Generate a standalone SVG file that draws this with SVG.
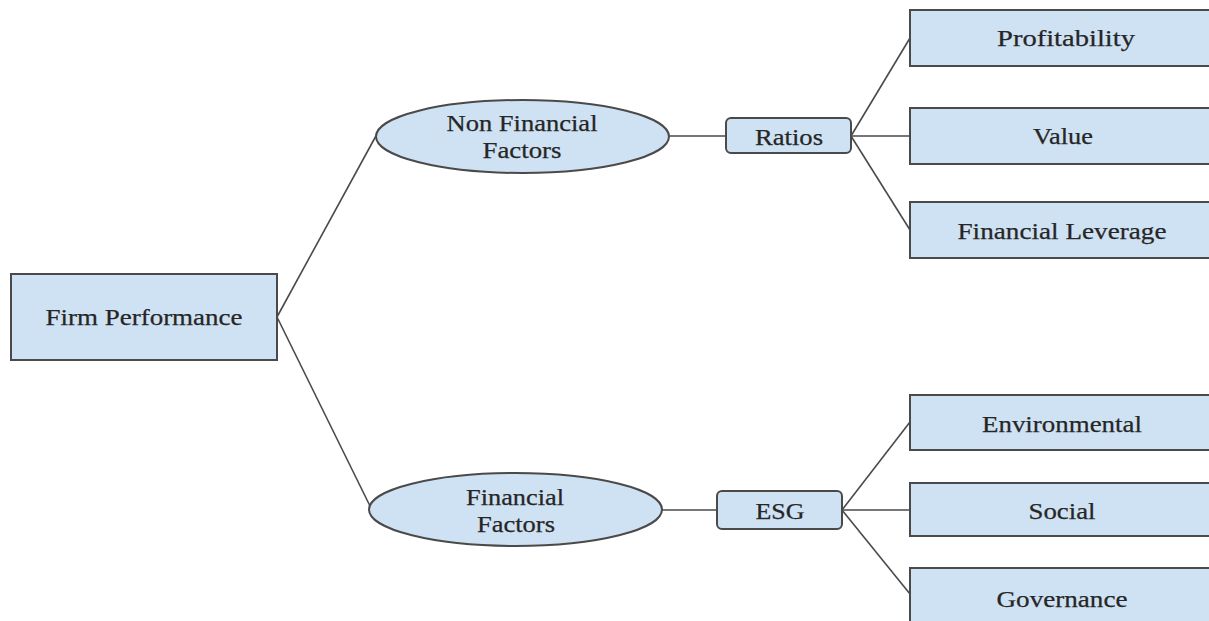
<svg xmlns="http://www.w3.org/2000/svg" width="1209" height="621" viewBox="0 0 1209 621">
<style>
.n{fill:#cfe2f3;stroke:#4a4a4a;stroke-width:2}
.t{font-family:"Liberation Serif","Times New Roman",serif;font-size:24px;fill:#262626;stroke:#262626;stroke-width:0.25;text-anchor:middle}
.c{stroke:#4a4a4a;stroke-width:1.6;fill:none}
</style>
<rect width="1209" height="621" fill="#fff"/>
<g id="connectors">
<line class="c" x1="277" y1="317" x2="377" y2="134"/>
<line class="c" x1="277" y1="317" x2="370" y2="506"/>
<line class="c" x1="669" y1="136" x2="726" y2="136"/>
<line class="c" x1="662" y1="510" x2="717" y2="510"/>
<line class="c" x1="851" y1="136" x2="910" y2="38"/>
<line class="c" x1="851" y1="136" x2="910" y2="136"/>
<line class="c" x1="851" y1="136" x2="910" y2="230"/>
<line class="c" x1="842" y1="510" x2="910" y2="422"/>
<line class="c" x1="842" y1="510" x2="910" y2="510"/>
<line class="c" x1="842" y1="510" x2="910" y2="594"/>
</g>
<g id="firm"><rect class="n" x="11" y="274" width="266" height="86"/><text class="t" x="144" y="325" textLength="197" lengthAdjust="spacingAndGlyphs">Firm Performance</text></g>
<g id="nonfin"><ellipse class="n" cx="522.5" cy="136.5" rx="146.5" ry="36.5"/><text class="t" x="522" y="131" textLength="151" lengthAdjust="spacingAndGlyphs">Non Financial</text><text class="t" x="522" y="158" textLength="79" lengthAdjust="spacingAndGlyphs">Factors</text></g>
<g id="fin"><ellipse class="n" cx="515.5" cy="509.5" rx="146.5" ry="36.5"/><text class="t" x="515" y="505" textLength="98" lengthAdjust="spacingAndGlyphs">Financial</text><text class="t" x="516" y="532" textLength="78" lengthAdjust="spacingAndGlyphs">Factors</text></g>
<g id="ratios"><rect class="n" x="726" y="118" width="125" height="35" rx="5"/><text class="t" x="789" y="145" textLength="68" lengthAdjust="spacingAndGlyphs">Ratios</text></g>
<g id="esg"><rect class="n" x="717" y="491" width="125" height="38" rx="5"/><text class="t" x="780" y="519" textLength="49" lengthAdjust="spacingAndGlyphs">ESG</text></g>
<g id="profitability"><rect class="n" x="910" y="10" width="310" height="56"/><text class="t" x="1066" y="46" textLength="138" lengthAdjust="spacingAndGlyphs">Profitability</text></g>
<g id="value"><rect class="n" x="910" y="108" width="310" height="56"/><text class="t" x="1063" y="144" textLength="60" lengthAdjust="spacingAndGlyphs">Value</text></g>
<g id="leverage"><rect class="n" x="910" y="202" width="310" height="56"/><text class="t" x="1062" y="239" textLength="209" lengthAdjust="spacingAndGlyphs">Financial Leverage</text></g>
<g id="environmental"><rect class="n" x="910" y="395" width="310" height="55"/><text class="t" x="1062" y="432" textLength="160" lengthAdjust="spacingAndGlyphs">Environmental</text></g>
<g id="social"><rect class="n" x="910" y="483" width="310" height="53"/><text class="t" x="1062" y="519" textLength="67" lengthAdjust="spacingAndGlyphs">Social</text></g>
<g id="governance"><rect class="n" x="910" y="568" width="310" height="70"/><text class="t" x="1062" y="607" textLength="131" lengthAdjust="spacingAndGlyphs">Governance</text></g>
</svg>
